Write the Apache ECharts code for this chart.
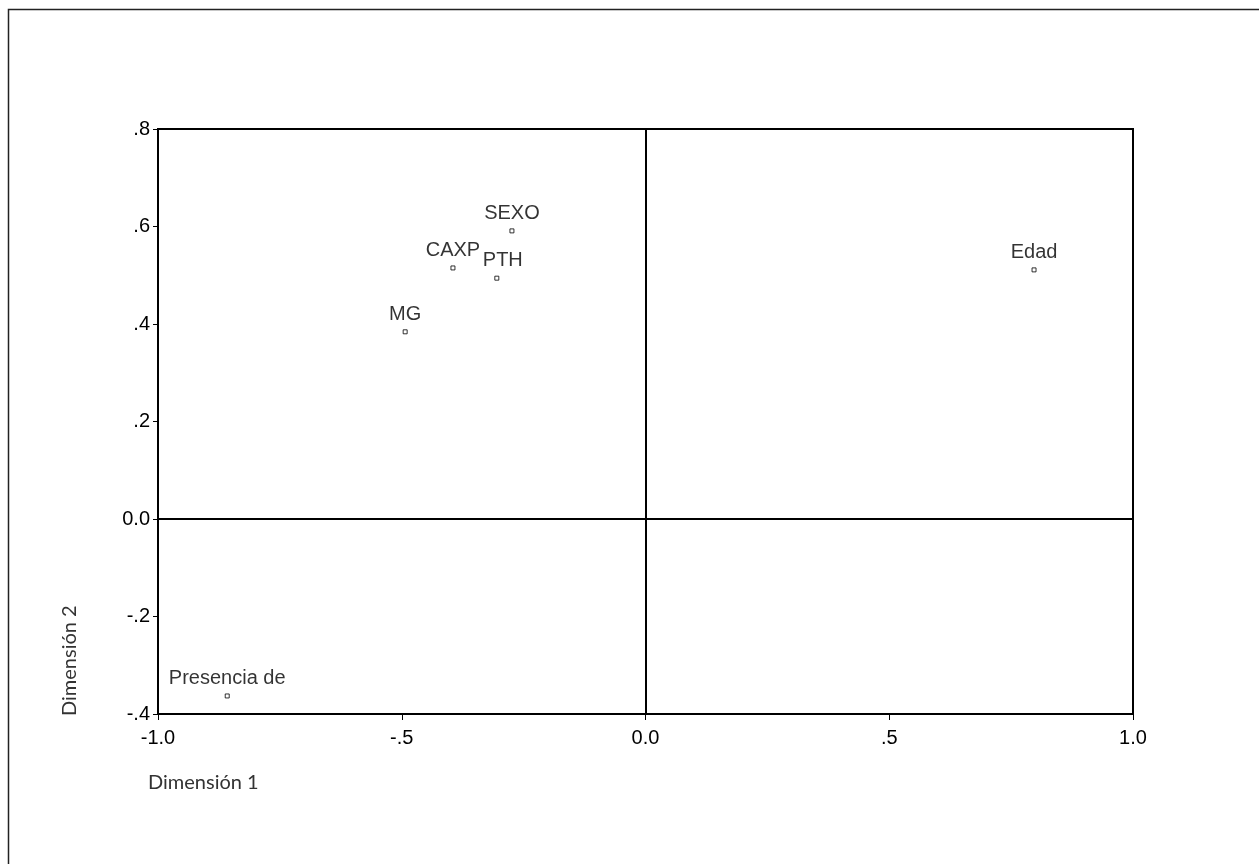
<!DOCTYPE html>
<html>
<head>
<meta charset="utf-8">
<script src="https://cdn.jsdelivr.net/npm/echarts@6/dist/echarts.min.js"></script>
<style>
  html, body { margin: 0; padding: 0; background: #fff; }
  #chart { width: 1259px; height: 864px; }
</style>
</head>
<body>
<div id="chart"></div>
<script>
// puntos del gráfico (dimensión 1, dimensión 2)
const names = ['SEXO', 'CAXP', 'PTH', 'MG', 'Edad', 'Presencia de'];
const dim1 = [-0.274, -0.395, -0.305, -0.493, 0.797, -0.858];
const dim2 = [0.591, 0.515, 0.494, 0.384, 0.511, -0.363];
const xTicks = [-1.0, -0.5, 0.0, 0.5, 1.0];
const yTicks = [-0.4, -0.2, 0.0, 0.2, 0.4, 0.6, 0.8];

function fmt(v) {
  const r = Math.round(v * 10) / 10;
  if (r === 0) return '0.0';
  if (Math.abs(r) >= 1) return r.toFixed(1);
  return r.toFixed(1).replace('0.', '.');
}

const chart = echarts.init(document.getElementById('chart'));
const font = 'Liberation Sans, Arial, sans-serif';

const option = {
  animation: false,
  backgroundColor: '#fff',
  grid: {
    left: 158, top: 129, width: 975, height: 585,
    show: true, borderColor: '#000', borderWidth: 2
  },
  xAxis: {
    type: 'value',
    min: xTicks[0], max: xTicks[xTicks.length - 1], interval: 0.5,
    splitLine: { show: false },
    axisLine: { show: true, onZero: false, lineStyle: { color: '#000', width: 2 } },
    axisTick: { show: true, length: 6, lineStyle: { color: '#000', width: 1 } },
    axisLabel: { color: '#000', fontSize: 20, fontFamily: font, margin: 14, formatter: fmt }
  },
  yAxis: {
    type: 'value',
    min: yTicks[0], max: yTicks[yTicks.length - 1], interval: 0.2,
    splitLine: { show: false },
    axisLine: { show: true, onZero: false, lineStyle: { color: '#000', width: 2 } },
    axisTick: { show: true, length: 5, lineStyle: { color: '#000', width: 1 } },
    axisLabel: { color: '#000', fontSize: 20, fontFamily: font, margin: 8, formatter: fmt }
  },
  graphic: [
    {
      type: 'rect', silent: true,
      shape: { x: 8.5, y: 9.5, width: 2000, height: 2000 },
      style: { fill: null, stroke: '#222', lineWidth: 1.5 }
    },
    {
      type: 'text', left: 148, top: 773,
      style: { text: 'Dimensión 1', fill: '#333', font: '20px Lato, "Open Sans", sans-serif' }
    },
    {
      type: 'text', x: 60, y: 716, rotation: Math.PI / 2,
      style: { text: 'Dimensión 2', fill: '#333', font: '20px Lato, "Open Sans", sans-serif' }
    }
  ],
  series: [{
    type: 'scatter',
    symbol: 'rect',
    symbolSize: 4,
    itemStyle: { color: '#fff', borderColor: '#000', borderWidth: 1 },
    label: {
      show: true, position: 'top', distance: 5,
      color: '#000', fontSize: 20, fontFamily: font,
      formatter: p => p.name
    },
    data: names.map((n, i) => ({
      name: n,
      value: [dim1[i], dim2[i]],
      label: n === 'PTH' ? { offset: [6, 0] } : undefined
    })),
    markLine: {
      silent: true,
      symbol: 'none',
      label: { show: false },
      lineStyle: { color: '#000', width: 2, type: 'solid' },
      data: [{ xAxis: 0 }, { yAxis: 0 }]
    }
  }]
};
chart.setOption(option);
</script>
</body>
</html>
